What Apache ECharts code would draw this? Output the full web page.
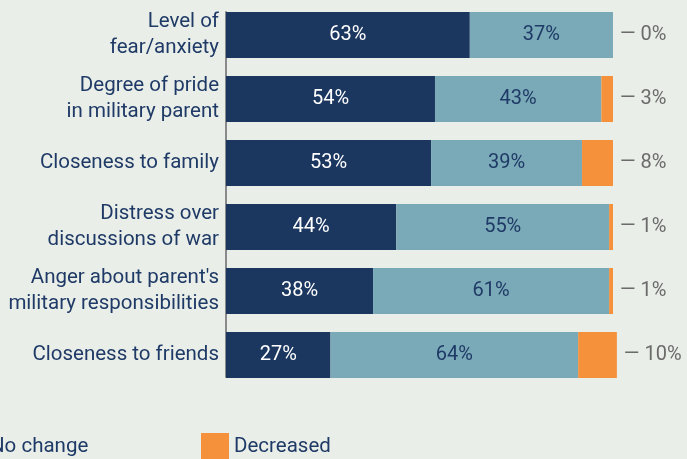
<!DOCTYPE html>
<html>
<head>
<meta charset="utf-8">
<script src="https://cdn.jsdelivr.net/npm/echarts@6/dist/echarts.min.js"></script>
<style>
html,body{margin:0;padding:0;background:#e9eee8;}
#c{width:687px;height:459px;}
</style>
</head>
<body>
<div id="c"></div>
<script>
const categories = [
  "Level of\nfear/anxiety",
  "Degree of pride\nin military parent",
  "Closeness to family",
  "Distress over\ndiscussions of war",
  "Anger about parent's\nmilitary responsibilities",
  "Closeness to friends"
];
const increased = [63, 54, 53, 44, 38, 27];
const noChange = [37, 43, 39, 55, 61, 64];
const decreased = [0, 3, 8, 1, 1, 10];

const FONT = "Roboto";
const NAVY = "#1b365f";
const LIGHT = "#7aaab8";
const ORANGE = "#f5903b";
const TEXT = "#1f3a66";
const GREY = "#6b6b6b";

const chart = echarts.init(document.getElementById('c'));
const legendBase = {
  top: 433, orient: 'horizontal', itemWidth: 28, itemHeight: 28, itemGap: 20, padding: 0,
  icon: 'rect', textStyle: {fontFamily: FONT, fontSize: 20.5, color: TEXT}, selectedMode: false
};
chart.setOption({
  backgroundColor: '#e9eee8',
  animation: false,
  grid: [
    {left: 226, top: 3, height: 384, width: 387, containLabel: false},
    {left: 226, top: 12, height: 365, width: 387, containLabel: false}
  ],
  xAxis: [
    {type: 'value', min: 0, max: 100, show: false, gridIndex: 0},
    {type: 'value', min: 0, max: 100, show: false, gridIndex: 1}
  ],
  yAxis: [
    {
      type: 'category', data: categories, inverse: true, gridIndex: 0,
      axisLine: {show: false},
      axisTick: {show: false},
      axisLabel: {fontFamily: FONT, fontSize: 20.5, color: TEXT, lineHeight: 26, margin: 7, align: 'right'}
    },
    {
      type: 'category', data: categories, inverse: true, gridIndex: 1,
      axisLine: {show: true, lineStyle: {color: '#8a8a8a', width: 2}},
      axisTick: {show: false}, axisLabel: {show: false}
    }
  ],
  legend: [
    Object.assign({}, legendBase, {left: -300, data: ['Increased']}),
    Object.assign({}, legendBase, {left: -43, data: ['No change']}),
    Object.assign({}, legendBase, {left: 201, data: ['Decreased']})
  ],
  series: [
    {name: 'Increased', type: 'bar', stack: 's', data: increased, barWidth: 46, clip: false,
     itemStyle: {color: NAVY},
     label: {show: true, position: 'inside', color: '#ffffff', fontFamily: FONT, fontSize: 20, formatter: '{c}%'}},
    {name: 'No change', type: 'bar', stack: 's', data: noChange, barWidth: 46, clip: false,
     itemStyle: {color: LIGHT},
     label: {show: true, position: 'inside', color: TEXT, fontFamily: FONT, fontSize: 20, formatter: '{c}%'}},
    {name: 'Decreased', type: 'bar', stack: 's', data: decreased, barWidth: 46, clip: false,
     itemStyle: {color: ORANGE},
     label: {show: true, position: 'right', distance: 7, color: GREY, fontFamily: FONT, fontSize: 20, formatter: '\u2014 {c}%'}}
  ]
});
</script>
</body>
</html>
